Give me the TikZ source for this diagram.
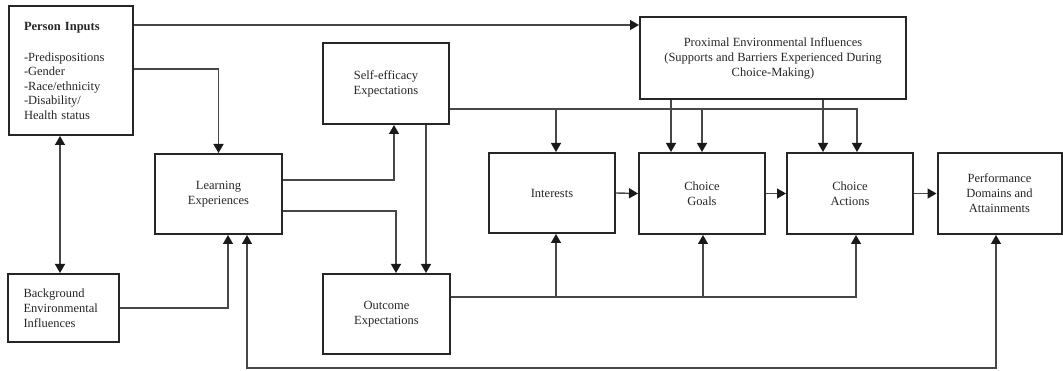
\documentclass[tikz,border=0pt]{standalone}
\usepackage{fontspec}
\setmainfont{Liberation Serif}
\usetikzlibrary{arrows.meta}
\begin{document}
\begin{tikzpicture}[x=1pt,y=-1pt,
  box/.style={draw=black!85, line width=2pt, inner sep=0pt, align=center,
    text=black!85, font=\fontsize{12.5}{15}\selectfont},
  conn/.style={draw=black!72, line width=1.4pt},
  tip/.style={Triangle[width=10pt,length=9pt,fill=black!90,color=black!90]},
  arr/.style={conn, -{Triangle[width=10pt,length=9pt,color=black!90]}},
  arrb/.style={conn, {Triangle[width=10pt,length=9pt,color=black!90]}-{Triangle[width=10pt,length=9pt,color=black!90]}}]
\useasboundingbox (0,0) rectangle (1063,371);

\node[box, minimum width=124pt, minimum height=129pt, text width=94pt, align=left,
  font=\fontsize{12.5}{14.4}\selectfont] (person) at (71,70.5)
  {\textbf{Person Inputs}\\[17pt]-Predispositions\\-Gender\\-Race/ethnicity\\-Disability/\\Health status};
\node[box, minimum width=111pt, minimum height=68pt, text width=80pt, align=left] (bg) at (63.5,308)
  {Background\\Environmental\\Influences};
\node[box, minimum width=127pt, minimum height=80pt] (learn) at (218.5,194) {Learning\\Experiences};
\node[box, minimum width=126pt, minimum height=81pt] (self) at (386,83.5) {Self-efficacy\\Expectations};
\node[box, minimum width=127pt, minimum height=80pt] (out) at (386.5,314) {Outcome\\Expectations};
\node[box, minimum width=266pt, minimum height=82pt] (prox) at (773,58)
  {Proximal Environmental Influences\\(Supports and Barriers Experienced During\\Choice-Making)};
\node[box, minimum width=126pt, minimum height=80pt] (int) at (552,193) {Interests};
\node[box, minimum width=126pt, minimum height=81pt] (goal) at (702,193.5) {Choice\\Goals};
\node[box, minimum width=126pt, minimum height=81pt] (act) at (850,193.5) {Choice\\Actions};
\node[box, minimum width=124pt, minimum height=81pt] (perf) at (999.5,193.5) {Performance\\Domains and\\Attainments};

% junctions
\coordinate (sa) at (556,109);
\coordinate (sb) at (702,109);
\coordinate (oa) at (556,297);
\coordinate (ob) at (703,297);
\coordinate (la) at (247,368);
\coordinate (lb) at (996,368);

\draw[arr] (person.east |- 0,25) -- (prox.west |- 0,25);
\draw[arr] (person.east |- 0,69) -| (learn.north);
\draw[arrb] (person.south -| 60,0) -- (bg.north -| 60,0);
\draw[arr] (bg.east) -| (learn.south -| 228,0);
\draw[arrb] (learn.south -| la) -- (la) -- (lb) -- (perf.south -| lb);
\draw[arr] (learn.east |- 0,180) -| (self.south -| 394,0);
\draw[arr] (learn.east |- 0,211) -| (out.north -| 396,0);
\draw[arr] (self.south -| 426,0) -- (out.north -| 426,0);
\draw[arr] (self.east |- sa) -| (act.north -| 857,0);
\draw[arr] (sa) -- (int.north -| sa);
\draw[arr] (sb) -- (goal.north -| sb);
\draw[arr] (prox.south -| 671,0) -- (goal.north -| 671,0);
\draw[arr] (prox.south -| 823,0) -- (act.north -| 823,0);
\draw[arr] (out.east |- oa) -| (act.south -| 856,0);
\draw[arr] (oa) -- (int.south -| oa);
\draw[arr] (ob) -- (goal.south -| ob);
\draw[arr] (int.east) -- (goal.west);
\draw[arr] (goal.east) -- (act.west);
\draw[arr] (act.east) -- (perf.west);
\end{tikzpicture}
\end{document}
